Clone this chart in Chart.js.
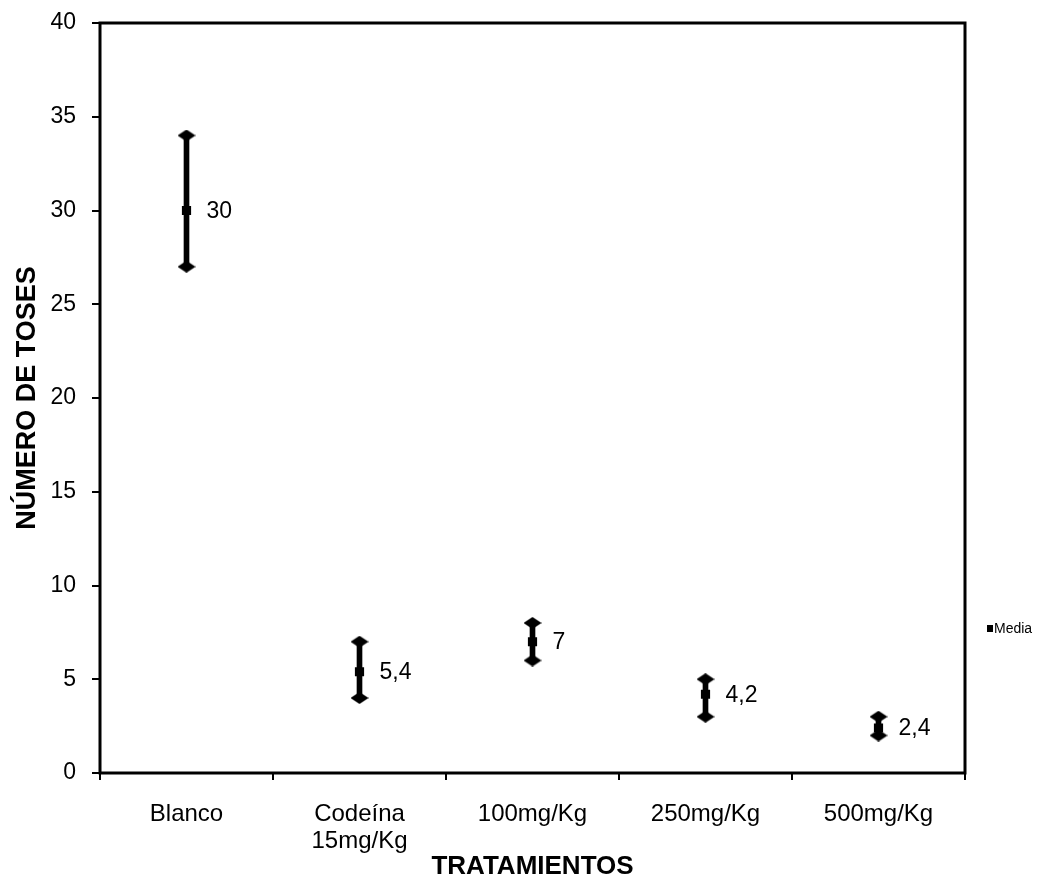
<!DOCTYPE html>
<html>
<head>
<meta charset="utf-8">
<script src="https://cdn.jsdelivr.net/npm/chart.js@4"></script>
<style>
  html, body { margin: 0; padding: 0; background: #fff; }
  #wrap { width: 1048px; height: 882px; }
</style>
</head>
<body>
<div id="wrap"><canvas id="chart" width="1048" height="882"></canvas></div>
<script>
const categories = [['Blanco'], ['Codeína', '15mg/Kg'], '100mg/Kg', '250mg/Kg', '500mg/Kg'];
const means = [30, 5.4, 7, 4.2, 2.4];
const highs = [34, 7, 8, 5, 3];
const lows = [27, 4, 6, 3, 2];
const yTicks = [0, 5, 10, 15, 20, 25, 30, 35, 40];

const FONT = '"Liberation Sans", Arial, sans-serif';

// flattened diamond used for the ends of the range
function diamond(w, h) {
  const c = document.createElement('canvas');
  c.width = w; c.height = h;
  const g = c.getContext('2d');
  g.fillStyle = '#000';
  g.beginPath();
  g.moveTo(w / 2, 0);
  g.lineTo(w, h / 2);
  g.lineTo(w / 2, h);
  g.lineTo(0, h / 2);
  g.closePath();
  g.fill();
  return c;
}
const tip = diamond(18, 12);

// value labels, outer box and the small legend
const extras = {
  id: 'extras',
  afterDatasetsDraw(chart) {
    const ctx = chart.ctx;
    const meta = chart.getDatasetMeta(0);
    ctx.save();
    ctx.fillStyle = '#000';
    ctx.font = '23px ' + FONT;
    ctx.textAlign = 'left';
    ctx.textBaseline = 'middle';
    meta.data.forEach((pt, i) => {
      ctx.fillText(String(means[i]).replace('.', ','), pt.x + 20, pt.y + 1);
    });
    ctx.restore();
  },
  afterDraw(chart) {
    const ctx = chart.ctx;
    const a = chart.chartArea;
    ctx.save();
    ctx.strokeStyle = '#000';
    ctx.lineWidth = 3;
    ctx.strokeRect(a.left, a.top, a.right - a.left, a.bottom - a.top);
    ctx.fillStyle = '#000';
    ctx.fillRect(987, 625, 6, 7);
    ctx.font = '14px ' + FONT;
    ctx.textBaseline = 'middle';
    ctx.fillText('Media', 994, 629);
    ctx.restore();
  }
};

new Chart(document.getElementById('chart').getContext('2d'), {
  data: {
    labels: categories,
    datasets: [
      {
        type: 'line',
        label: 'Media',
        data: means,
        showLine: false,
        pointStyle: 'rect',
        pointRadius: 6.5,
        backgroundColor: '#000',
        borderColor: '#000',
        borderWidth: 0
      },
      {
        type: 'line',
        label: 'Máximo',
        data: highs,
        showLine: false,
        pointStyle: tip
      },
      {
        type: 'line',
        label: 'Mínimo',
        data: lows,
        showLine: false,
        pointStyle: tip
      },
      {
        type: 'bar',
        label: 'Rango',
        data: lows.map((lo, i) => [lo, highs[i]]),
        backgroundColor: '#000',
        barThickness: 5
      }
    ]
  },
  options: {
    responsive: false,
    animation: false,
    events: [],
    layout: { padding: { left: 0, right: 83, top: 23, bottom: 0 } },
    plugins: {
      legend: { display: false },
      tooltip: { enabled: false }
    },
    scales: {
      x: {
        offset: true,
        grid: {
          offset: true,
          drawOnChartArea: false,
          color: '#000',
          lineWidth: 2,
          tickLength: 7
        },
        border: { display: false },
        ticks: {
          color: '#000',
          font: { family: FONT, size: 24, lineHeight: 1.13 },
          padding: 21,
          maxRotation: 0,
          autoSkip: false
        },
        title: {
          display: true,
          text: 'TRATAMIENTOS',
          color: '#000',
          font: { family: FONT, size: 26, weight: 'bold' },
          padding: { top: 0, bottom: 0 }
        },
        afterFit(scale) {
          scale.height = 109;
          scale.paddingLeft = 0;
          scale.paddingRight = 0;
        }
      },
      y: {
        min: 0,
        max: 40,
        afterBuildTicks(scale) { scale.ticks = yTicks.map(v => ({ value: v })); },
        grid: {
          drawOnChartArea: false,
          color: '#000',
          lineWidth: 2,
          tickLength: 8
        },
        border: { display: false },
        ticks: {
          color: '#000',
          font: { family: FONT, size: 23 },
          padding: 16
        },
        title: {
          display: true,
          text: 'NÚMERO DE TOSES',
          color: '#000',
          font: { family: FONT, size: 27, weight: 'bold' },
          padding: { top: 11, bottom: 0 }
        },
        afterFit(scale) {
          scale.width = 100;
          scale.paddingTop = 0;
          scale.paddingBottom = 0;
        }
      }
    }
  },
  plugins: [extras]
});
</script>
</body>
</html>
